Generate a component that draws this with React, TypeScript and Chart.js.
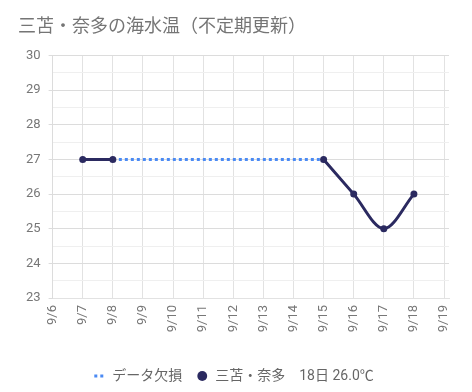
import React, { useEffect, useRef } from "react";
import { Chart, registerables } from "chart.js";

Chart.register(...registerables);

const categories: string[] = ["9/6", "9/7", "9/8", "9/9", "9/10", "9/11", "9/12", "9/13", "9/14", "9/15", "9/16", "9/17", "9/18", "9/19"];
const seaTemp: (number | null)[] = [null, 27, 27, null, null, null, null, null, null, 27, 26, 25, 26, null];
const missingData: (number | null)[] = [null, null, 27, null, null, null, null, null, null, 27, null, null, null, null];
const titleText = "三苫・奈多の海水温（不定期更新）";
const missingLabel = "データ欠損";
const seriesLabel = "三苫・奈多　18日 26.0℃";
const yMin = 23;
const yMax = 30;

const FONT = "Roboto, 'Noto Sans CJK JP', sans-serif";
const NAVY = "#2b2a60";
const BLUE = "#4a8af4";

const toPoints = (arr: (number | null)[]) => arr.map((y, i) => ({ x: i, y }));

export default function App() {
  const ref = useRef<HTMLCanvasElement | null>(null);
  useEffect(() => {
    if (!ref.current) return;
    const chart = new Chart(ref.current, {
      type: "line",
      data: {
        datasets: [
          {
            label: missingLabel,
            data: toPoints(missingData),
            borderColor: BLUE,
            backgroundColor: BLUE,
            borderWidth: 3,
            borderDash: [3, 3],
            pointRadius: 0,
            pointHoverRadius: 0,
            pointStyle: "line",
            spanGaps: true,
            fill: false,
            order: 2,
          },
          {
            label: seriesLabel,
            data: toPoints(seaTemp),
            borderColor: NAVY,
            backgroundColor: NAVY,
            borderWidth: 3,
            pointRadius: 3.5,
            pointBorderWidth: 0,
            pointBackgroundColor: NAVY,
            pointBorderColor: NAVY,
            pointStyle: "circle",
            cubicInterpolationMode: "monotone",
            spanGaps: false,
            fill: false,
            order: 1,
          },
        ],
      },
      options: {
        animation: false,
        responsive: true,
        maintainAspectRatio: false,
        layout: { padding: { left: 10, right: 15, top: 0, bottom: 0 } },
        plugins: {
          title: {
            display: true,
            text: titleText,
            align: "start",
            color: "#757575",
            font: { family: FONT, size: 18, weight: "normal" },
            padding: { top: 9, bottom: 17 },
          },
          legend: {
            position: "bottom",
            labels: {
              usePointStyle: true,
              boxWidth: 12,
              boxHeight: 7,
              color: "#666",
              font: { family: FONT, size: 14 },
              padding: 14,
              generateLabels: (c: any) =>
                c.data.datasets.map((ds: any, i: number) => ({
                  text: ds.label,
                  fillStyle: ds.backgroundColor,
                  strokeStyle: ds.borderColor,
                  lineWidth: i === 0 ? 3 : 0,
                  lineDash: i === 0 ? [3, 3] : [],
                  lineCap: "butt",
                  pointStyle: ds.pointStyle,
                  hidden: false,
                  datasetIndex: i,
                  fontColor: "#666",
                })),
            },
          },
          tooltip: { enabled: false },
        },
        scales: {
          x: {
            type: "linear",
            min: 0,
            max: categories.length - 1 + 0.165,
            grid: { color: "#e2e2e2", drawTicks: false },
            border: { color: "#e2e2e2" },
            afterFit: (s: any) => {
              s.height = 57;
              s.paddingLeft = 0;
              s.paddingRight = 0;
            },
            ticks: {
              stepSize: 1,
              includeBounds: false,
              color: "#777",
              font: { family: FONT, size: 13 },
              maxRotation: 90,
              minRotation: 90,
              padding: 7,
              autoSkip: false,
              callback: (v: any) => {
                const i = Number(v);
                return Number.isInteger(i) && categories[i] !== undefined ? categories[i] : "";
              },
            },
          },
          y: {
            min: yMin,
            max: yMax,
            grid: {
              color: (ctx: any) => (ctx.tick && ctx.tick.value % 1 === 0 ? "#dcdcdc" : "#efefef"),
              tickColor: (ctx: any) => (ctx.tick && ctx.tick.value % 1 === 0 ? "#dcdcdc" : "rgba(0,0,0,0)"),
              tickLength: 4,
            },
            border: { color: "#dcdcdc" },
            ticks: {
              stepSize: 0.5,
              autoSkip: false,
              color: "#777",
              font: { family: FONT, size: 13 },
              padding: 8,
              callback: (v: any) => (Number(v) % 1 === 0 ? String(v) : ""),
            },
          },
        },
      },
    });
    return () => chart.destroy();
  }, []);
  return (
    <div style={{ width: 456, height: 385, position: "relative", marginBottom: -9 }}>
      <canvas ref={ref} />
    </div>
  );
}
